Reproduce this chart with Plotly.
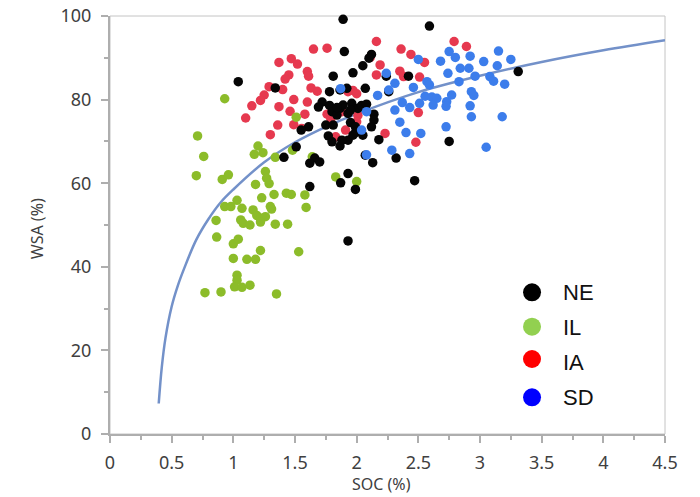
import plotly.graph_objects as go

# ---------------- data ----------------
ne_soc = [1.89, 2.59, 1.90, 2.12, 2.10, 2.05, 1.97, 1.81, 2.24, 2.42, 2.07, 2.26, 3.31, 1.04, 1.34,
          1.78, 1.865, 1.92, 1.72, 1.69, 1.78, 1.80, 1.865, 1.89, 1.96, 1.93, 1.84, 1.84, 2.01, 2.04,
          2.08, 2.14, 2.14, 2.12, 1.95, 1.99, 1.99, 1.75, 1.81, 1.61, 1.55, 1.77, 1.80, 1.865, 1.93,
          1.97, 1.88, 2.05, 2.18, 1.51, 1.41, 1.66, 1.62, 1.70, 2.07, 2.13, 2.32, 2.75, 2.47, 1.93,
          1.87, 1.99, 1.93, 1.62, 1.95]
ne_wsa = [99.2, 97.6, 91.5, 90.8, 89.9, 88.1, 86.4, 85.6, 85.6, 85.6, 82.7, 81.9, 86.7, 84.3, 82.8,
          81.9, 82.3, 82.7, 79.4, 78.2, 78.6, 77.1, 77.9, 78.7, 79.1, 76.7, 76.3, 78.1, 77.9, 78.6,
          78.9, 76.5, 75.1, 73.5, 74.5, 73.5, 72.1, 73.9, 73.9, 73.5, 72.7, 71.3, 69.9, 68.9, 70.3,
          71.5, 70.3, 71.5, 70.4, 68.7, 66.2, 66.0, 64.8, 65.1, 66.7, 64.9, 66.0, 70.0, 60.6, 62.3,
          60.1, 58.5, 46.2, 59.2, 77.5]

il_soc = [0.93, 0.71, 0.76, 0.70, 0.91, 0.96, 1.20, 1.17, 1.24, 1.34, 1.48, 1.64, 1.51, 1.83, 2.00,
          1.26, 1.27, 1.29, 1.18, 1.33, 1.43, 1.47, 1.58, 1.59, 1.23, 0.93, 0.98, 1.03, 1.07, 1.16,
          1.19, 1.22, 1.26, 1.31, 1.30, 0.86, 1.06, 1.08, 1.135, 1.22, 1.34, 1.44, 0.865, 1.00, 1.04,
          1.53, 1.22, 1.18, 1.11, 1.00, 1.03, 1.03, 1.01, 1.07, 1.135, 0.77, 0.90, 1.35]
il_wsa = [80.2, 71.3, 66.4, 61.8, 60.9, 62.0, 68.9, 66.9, 67.3, 66.2, 67.9, 66.3, 75.8, 61.5, 60.4,
          62.8, 61.2, 59.9, 59.7, 57.3, 57.6, 57.3, 57.2, 54.2, 56.5, 54.4, 54.4, 55.9, 54.0, 53.6,
          52.3, 51.6, 52.0, 53.8, 54.4, 51.1, 51.2, 50.4, 50.0, 50.7, 50.2, 50.2, 47.1, 45.5, 46.6,
          43.6, 43.9, 41.8, 41.8, 42.0, 38.0, 36.8, 35.2, 35.1, 35.6, 33.8, 34.0, 33.5]

ia_soc = [1.65, 1.76, 1.37, 1.47, 1.52, 1.60, 1.61, 1.45, 1.42, 1.29, 1.40, 1.25, 1.22, 1.15, 1.10,
          1.37, 1.49, 1.46, 1.60, 1.58, 1.63, 1.68, 1.36, 1.30, 1.49, 1.555, 1.76, 1.79, 1.83, 1.91,
          1.88, 1.93, 1.97, 2.00, 2.16, 2.36, 2.44, 2.79, 2.89, 2.19, 2.16, 2.11, 2.35, 2.38, 2.55,
          2.51, 2.01, 2.00, 2.23, 2.50, 2.48]
ia_wsa = [92.1, 92.3, 88.9, 89.8, 88.5, 86.7, 85.6, 85.9, 84.9, 83.1, 82.4, 81.1, 79.8, 78.5, 75.6,
          78.3, 80.0, 77.2, 79.4, 76.5, 82.8, 82.0, 73.9, 71.6, 74.0, 73.1, 76.5, 75.4, 71.1, 72.7,
          77.1, 81.9, 82.2, 81.4, 93.9, 92.1, 90.8, 93.9, 92.7, 88.3, 85.9, 90.1, 86.8, 85.5, 88.9,
          85.4, 76.2, 74.7, 71.9, 76.9, 69.8]

sd_soc = [2.75, 2.80, 2.68, 2.92, 3.15, 3.25, 3.03, 3.14, 2.84, 2.91, 2.74, 2.96, 3.08, 3.11, 3.20,
          2.83, 2.50, 2.24, 2.31, 2.26, 2.46, 2.57, 2.59, 2.17, 2.555, 2.61, 2.65, 2.51, 2.37, 2.31,
          2.43, 2.62, 2.73, 2.77, 2.725, 2.93, 2.95, 2.92, 2.93, 3.18, 2.35, 2.40, 2.52, 2.725, 2.285,
          2.43, 3.05, 1.87, 2.08, 2.04, 2.08]
sd_wsa = [91.5, 90.1, 89.2, 90.4, 91.6, 89.6, 89.1, 88.1, 87.5, 87.5, 86.3, 85.6, 85.5, 84.4, 83.7,
          84.3, 89.6, 86.3, 83.9, 82.3, 82.9, 84.3, 83.5, 81.0, 80.8, 80.6, 80.3, 79.1, 79.3, 77.5,
          78.1, 78.7, 79.5, 81.1, 78.4, 81.9, 81.0, 78.5, 75.9, 75.9, 74.6, 72.1, 71.9, 73.5, 67.9,
          67.1, 68.6, 82.6, 77.1, 72.7, 66.8]

# fitted curve
curve_soc = [0.395, 0.42, 0.45, 0.5, 0.55, 0.6, 0.7, 0.8, 0.9, 1.0, 1.25, 1.5, 1.75, 2.0, 2.5, 3.0, 3.5, 4.0, 4.5]
curve_wsa = [7.3, 16.0, 23.0, 30.5, 35.5, 39.5, 46.5, 51.5, 55.5, 58.5, 65.0, 69.8, 73.5, 76.6, 81.8, 85.7, 89.0, 91.8, 94.2]

x_ticks = [0, 0.5, 1, 1.5, 2, 2.5, 3, 3.5, 4, 4.5]
x_tick_labels = ["0", "0.5", "1", "1.5", "2", "2.5", "3", "3.5", "4", "4.5"]
y_ticks = [0, 20, 40, 60, 80, 100]
y_tick_labels = ["0", "20", "40", "60", "80", "100"]

legend_names = ["NE", "IL", "IA", "SD"]
legend_colors = ["#000000", "#92D050", "#FF0000", "#0000FF"]

# ---------------- figure ----------------
fig = go.Figure()

fig.add_trace(go.Scatter(x=curve_soc, y=curve_wsa, mode="lines", line=dict(color="#7391C9", width=2.5, shape="spline"),
                         hoverinfo="skip", showlegend=False))

series = [
    ("IA", ia_soc, ia_wsa, "#E6394F"),
    ("IL", il_soc, il_wsa, "#8CBC2A"),
    ("NE", ne_soc, ne_wsa, "#050505"),
    ("SD", sd_soc, sd_wsa, "#3C7DEB"),
]
for name, xs, ys, col in series:
    fig.add_trace(go.Scatter(x=xs, y=ys, mode="markers", name=name,
                             marker=dict(color=col, size=9.5, line=dict(width=0)),
                             cliponaxis=False, showlegend=False))

axis_common = dict(
    showgrid=False, zeroline=False, showline=True, linecolor="#AEAEAE", linewidth=2,
    ticks="outside", ticklen=7, tickwidth=1.5, tickcolor="#AEAEAE", automargin=False,
    tickfont=dict(family="Noto Sans", size=18, color="#404040"),
)

fig.update_xaxes(range=[0, 4.5], tickvals=x_ticks, ticktext=x_tick_labels,
                 minor=dict(ticks="outside", ticklen=4, tickcolor="#AEAEAE", dtick=0.25, tick0=0),
                 ticklabelstandoff=4, **axis_common)
fig.update_yaxes(range=[0, 100], tickvals=y_ticks, ticktext=y_tick_labels,
                 minor=dict(ticks="outside", ticklen=4, tickcolor="#AEAEAE", dtick=10, tick0=0),
                 ticklabelstandoff=6, **axis_common)

shapes = [dict(type="rect", xref="paper", yref="paper", x0=0, y0=0, x1=1, y1=1,
               line=dict(color="#C4C4C4", width=1), layer="below")]
annotations = [
    dict(text="SOC (%)", xref="paper", yref="paper", x=0.49, y=-0.119, showarrow=False,
         xanchor="center", yanchor="middle", font=dict(family="Noto Sans", size=16, color="#404040")),
    dict(text="WSA (%)", xref="paper", yref="paper", x=-0.1315, y=0.49, showarrow=False, textangle=-90,
         xanchor="center", yanchor="middle", font=dict(family="Noto Sans", size=16, color="#404040")),
]

leg_marker_y = [0.339, 0.2567, 0.1794, 0.0878]
leg_text_y = [0.3397, 0.2536, 0.1722, 0.0885]
for name, col, my, ty in zip(legend_names, legend_colors, leg_marker_y, leg_text_y):
    shapes.append(dict(type="circle", xref="paper", yref="paper", xsizemode="pixel", ysizemode="pixel",
                       xanchor=0.7604, yanchor=my, x0=-9, x1=9, y0=-9, y1=9,
                       fillcolor=col, line=dict(width=0)))
    annotations.append(dict(text=name, xref="paper", yref="paper", x=0.812, y=ty, showarrow=False,
                            xanchor="left", yanchor="middle",
                            font=dict(family="Liberation Sans", size=22, color="#111111")))

fig.update_layout(
    width=700, height=497,
    margin=dict(l=110, r=35, t=16, b=63, autoexpand=False),
    paper_bgcolor="white", plot_bgcolor="white",
    shapes=shapes, annotations=annotations, showlegend=False,
)

fig.write_html("out.html", config={"displayModeBar": False},
               post_script="document.body.style.margin='0px';document.body.style.overflow='hidden';")
